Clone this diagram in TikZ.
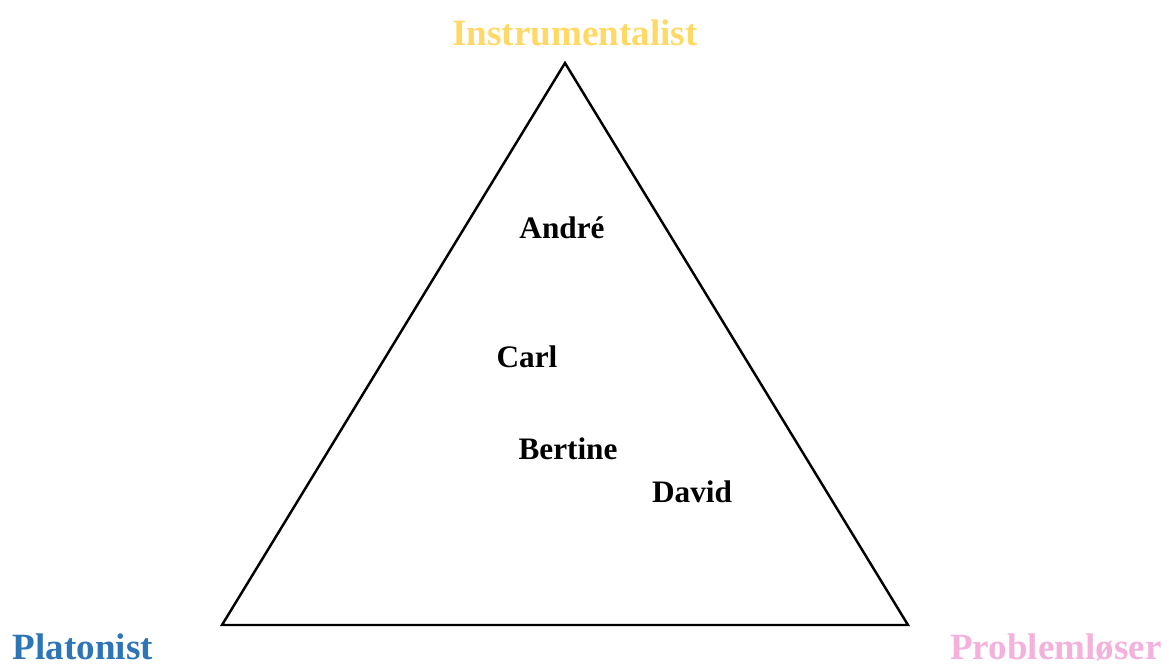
\documentclass[tikz,border=0pt]{standalone}
\usepackage{fontspec}
\setmainfont{Liberation Serif}
\usepackage{tikz}
\usetikzlibrary{positioning}
\definecolor{instcol}{HTML}{FFD966}
\definecolor{platcol}{HTML}{2E75B6}
\definecolor{probcol}{HTML}{F4B1DC}

\begin{document}
\begin{tikzpicture}[
  x=0.02cm, y=-0.02cm,
  corner/.style={font=\fontsize{21.1}{24}\selectfont\bfseries, inner sep=0pt, anchor=base},
  person/.style={font=\fontsize{17.8}{20}\selectfont\bfseries, inner sep=0pt, anchor=base},
  side/.style={draw, line width=1.4pt, line join=miter}
]
\useasboundingbox (0,0) rectangle (1167,664);
\coordinate (top) at (565,63);
\coordinate (left) at (222,625);
\coordinate (right) at (908,625);
\draw[side] (top) -- (right) -- (left) -- cycle;
% corner labels
\node[corner, text=instcol] (inst) at (575,45) {Instrumentalist};
\node[corner, text=platcol] (plat) at (83,659) {Platonist};
\node[corner, text=probcol] (prob) at (1056,659) {Problemløser};
% persons
\node[person] (andre) at (562,238) {André};
\node[person] (carl) at (527,367) {Carl};
\node[person] (bertine) at (568,459) {Bertine};
\node[person] (david) at (692,502) {David};
\end{tikzpicture}
\end{document}
